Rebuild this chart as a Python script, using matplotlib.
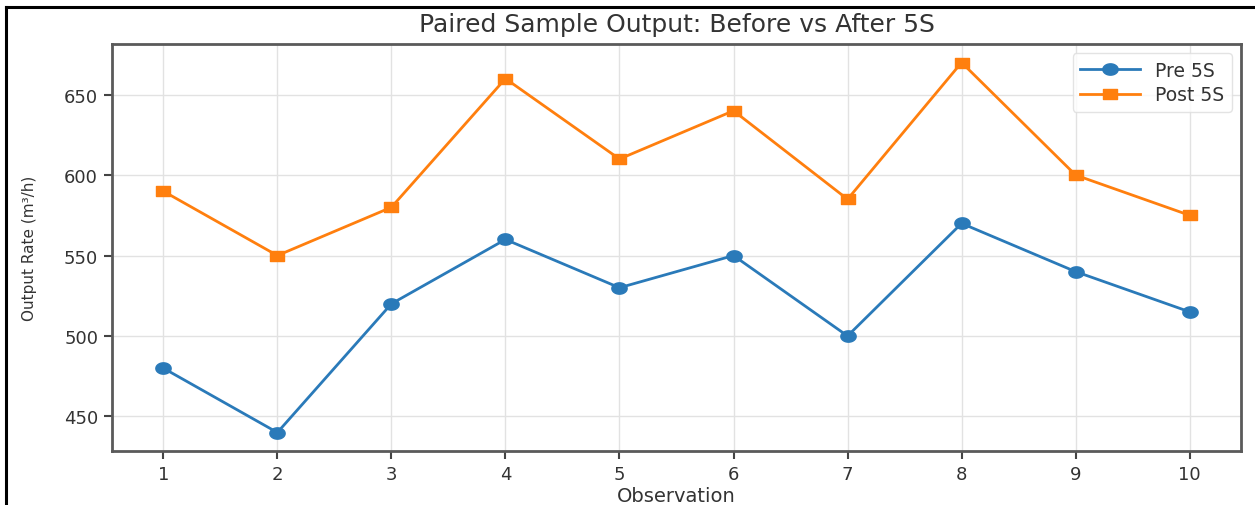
import matplotlib
matplotlib.use("Agg")
import matplotlib.pyplot as plt
from matplotlib.path import Path
from matplotlib.lines import Line2D
import numpy as np

observations = [1, 2, 3, 4, 5, 6, 7, 8, 9, 10]
pre_5s = [480, 440, 520, 560, 530, 550, 500, 570, 540, 515]
post_5s = [590, 550, 580, 660, 610, 640, 585, 670, 600, 575]

plt.rcParams['font.family'] = ['DejaVu Sans']

# horizontally stretched markers (the reference is stretched sideways)
t = np.linspace(0, 2 * np.pi, 60)
ellipse = Path(np.column_stack([1.35 * np.cos(t), np.sin(t)]), closed=True)
rect = Path([(-1.35, -1), (1.35, -1), (1.35, 1), (-1.35, 1), (-1.35, -1)], closed=True)

fig = plt.figure(figsize=(12.55, 5.06), dpi=100)
ax = fig.add_axes([112 / 1255, 1 - 452 / 506, (1241 - 112) / 1255, (452 - 45) / 506])

ax.plot(observations, pre_5s, color='#2a7ab9', linewidth=2.0, marker=ellipse,
        markersize=11, label='Pre 5S')
ax.plot(observations, post_5s, color='#ff7f0e', linewidth=2.0, marker=rect,
        markersize=10, label='Post 5S')

ax.set_xticks(observations)
ax.set_yticks([450, 500, 550, 600, 650])
ax.tick_params(labelsize=13, colors='#444444', width=1.5, length=6, pad=4)
for lab in ax.get_xticklabels() + ax.get_yticklabels():
    lab.set_color('#333333')
ax.grid(True, color='#e2e2e2', linewidth=1.0)
for s in ax.spines.values():
    s.set_color('#5a5a5a')
    s.set_linewidth(2.0)

ax.set_title('Paired Sample Output: Before vs After 5S', fontsize=18, color='#333333', pad=9)
ax.set_xlabel('Observation', fontsize=14, color='#333333', labelpad=2)
ax.set_ylabel('Output Rate (m³/h)', fontsize=11, color='#333333', labelpad=19)

leg = ax.legend(loc='upper right', fontsize=13.5, frameon=True, borderpad=0.4,
                handlelength=3.2, labelspacing=0.3, borderaxespad=0.5)
leg.get_frame().set_edgecolor('#dddddd')
leg.get_frame().set_linewidth(1.0)
for txt in leg.get_texts():
    txt.set_color('#333333')

# black frame of the screenshot (left and top edges)
fig.add_artist(Line2D([6 / 1255, 6 / 1255], [0, 1 - 7.5 / 506], color='black',
                      linewidth=2.2, transform=fig.transFigure))
fig.add_artist(Line2D([6 / 1255, 1], [1 - 7.5 / 506, 1 - 7.5 / 506], color='black',
                      linewidth=2.2, transform=fig.transFigure))

fig.savefig('out.png', dpi=100)
